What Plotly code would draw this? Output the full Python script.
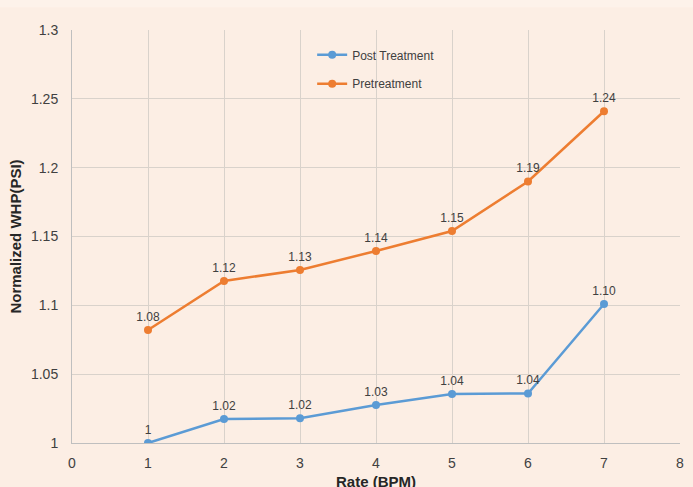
import plotly.graph_objects as go

# Pump rate (BPM) and normalized wellhead pressure readings
rate = [1, 2, 3, 4, 5, 6, 7]
post_treatment = [1.0, 1.0174, 1.018, 1.0276, 1.0356, 1.036, 1.101]
pretreatment = [1.0821, 1.1177, 1.1257, 1.1395, 1.154, 1.190, 1.241]

x_ticks = [0, 1, 2, 3, 4, 5, 6, 7, 8]
y_ticks = [1, 1.05, 1.1, 1.15, 1.2, 1.25, 1.3]
y_tick_text = ["1", "1.05", "1.1", "1.15", "1.2", "1.25", "1.3"]

BLUE = "#5B9BD5"
ORANGE = "#ED7D31"
BG = "#FCEEE4"
GRID = "#D9D2CB"
FONT = "Liberation Sans, Arial, sans-serif"


def fmt(v):
    return "1" if v == 1 else f"{v:.2f}"


fig = go.Figure()

fig.add_trace(go.Scatter(
    x=rate, y=post_treatment, name="Post Treatment",
    mode="lines+markers+text",
    line=dict(color=BLUE, width=2.5),
    marker=dict(color=BLUE, size=8),
    text=[fmt(v) for v in post_treatment],
    textposition="top center",
    textfont=dict(family=FONT, size=12, color="#404040"),
    legend="legend", showlegend=True,
))

fig.add_trace(go.Scatter(
    x=rate, y=pretreatment, name="Pretreatment",
    mode="lines+markers+text",
    line=dict(color=ORANGE, width=2.5),
    marker=dict(color=ORANGE, size=8),
    text=[fmt(v) for v in pretreatment],
    textposition="top center",
    textfont=dict(family=FONT, size=12, color="#404040"),
    legend="legend2", showlegend=True,
))

legend_common = dict(
    xanchor="left", yanchor="top",
    bgcolor="rgba(0,0,0,0)",
    font=dict(family=FONT, size=12, color="#404040"),
    itemwidth=30, visible=True,
)

fig.update_layout(
    width=693, height=487,
    margin=dict(l=72, r=13, t=30, b=44),
    paper_bgcolor=BG, plot_bgcolor=BG,
    showlegend=True,
    font=dict(family=FONT, size=14, color="#404040"),
    legend=dict(x=0.395, y=0.975, **legend_common),
    legend2=dict(x=0.395, y=0.905, **legend_common),
    xaxis=dict(
        range=[0, 8], tickvals=x_ticks, showgrid=True, gridcolor=GRID, gridwidth=1,
        zeroline=False, showline=True, linecolor="#BFBFBF", linewidth=1,
        ticks="", ticklabelstandoff=7, automargin=False,
        tickfont=dict(family=FONT, size=14, color="#404040"),
    ),
    yaxis=dict(
        range=[1, 1.3], tickvals=y_ticks, ticktext=y_tick_text,
        showgrid=True, gridcolor=GRID, gridwidth=1,
        zeroline=False, showline=True, linecolor="#BFBFBF", linewidth=1,
        ticks="", ticklabelstandoff=10, automargin=False,
        tickfont=dict(family=FONT, size=14, color="#404040"),
        title=dict(text="<b>Normalized WHP(PSI)</b>", font=dict(family=FONT, size=15, color="#262626"), standoff=5),
    ),
)

# x-axis title sits low, partly past the bottom edge of the page
fig.add_annotation(
    text="<b>Rate (BPM)</b>", xref="paper", yref="paper",
    x=0.5, y=-0.094, xanchor="center", yanchor="middle", showarrow=False,
    font=dict(family=FONT, size=15, color="#262626"),
)

# lighter strip along the top edge of the page
fig.add_shape(type="rect", xref="paper", yref="paper",
              x0=-0.2, x1=1.1, y0=1.055, y1=1.1, fillcolor="#FDF2EA",
              line=dict(width=0), layer="below")

fig.write_html("out.html")
